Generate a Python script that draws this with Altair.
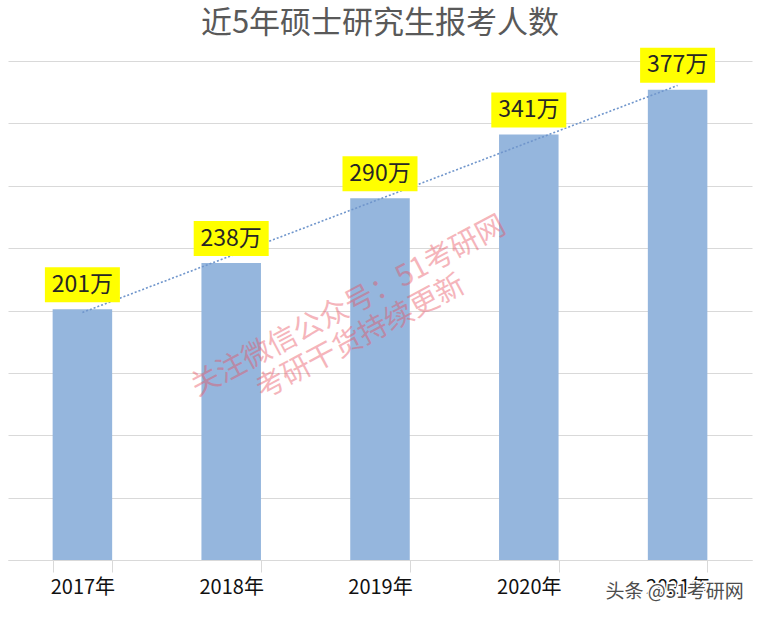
import altair as alt
import pandas as pd

# ---- data ----
years = [2017, 2018, 2019, 2020, 2021]
values = [201, 238, 290, 341, 377]
labels = [f"{v}万" for v in values]

wm_lines = ["关注微信公众号：51考研网", "考研干货持续更新"]
wm_year = [2019, 2019]
wm_value = [217, 187]

src_text = ["头条 @51考研网"]
src_year = [2021]
src_value = [-26]

df = pd.DataFrame({"year": years, "value": values, "label": labels})
wm1 = pd.DataFrame({"year": wm_year[:1], "value": wm_value[:1], "text": wm_lines[:1]})
wm2 = pd.DataFrame({"year": wm_year[1:], "value": wm_value[1:], "text": wm_lines[1:]})
src = pd.DataFrame({"year": src_year, "value": src_value, "text": src_text})

FONT = "Noto Sans CJK SC"

x = alt.X(
    "year:O",
    scale=alt.Scale(paddingInner=0.6, paddingOuter=0.3),
    axis=alt.Axis(
        title=None,
        labelAngle=0,
        labelExpr="isValid(datum.value) && datum.label != '' ? datum.label + '年' : ''",
        labelFontSize=20,
        labelFont=FONT,
        labelColor="#111111",
        labelPadding=5,
        domainColor="#d9d9d9",
        tickColor="#d9d9d9",
        tickSize=12,
        tickBand="extent",
        grid=False,
    ),
)
y = alt.Y(
    "value:Q",
    scale=alt.Scale(domain=[0, 400], nice=False),
    axis=alt.Axis(
        title=None,
        labels=False,
        ticks=False,
        domain=False,
        values=[0, 50, 100, 150, 200, 250, 300, 350, 400],
        gridColor="#d9d9d9",
        gridWidth=1,
    ),
)

base = alt.Chart(df)

bars = base.mark_bar(color="#95b6dd").encode(x=x, y=y)

trend = (
    base.transform_regression("year", "value", method="linear")
    .mark_line(color="#7096cc", strokeDash=[2, 2], strokeWidth=1.6)
    .encode(x="year:O", y="value:Q")
)

boxes = base.mark_point(
    shape="M-1,-0.467L1,-0.467L1,0.467L-1,0.467Z",
    filled=True,
    color="#ffff00",
    opacity=1,
    size=5625,
    yOffset=-24.5,
).encode(x="year:O", y="value:Q")

texts = base.mark_text(
    font=FONT, fontSize=23, color="#262626", dy=-24.5, baseline="middle"
).encode(x="year:O", y="value:Q", text="label:N")

wm_style = dict(font=FONT, fontSize=29, color="#e8505f", opacity=0.42, angle=332, baseline="middle")
watermark1 = alt.Chart(wm1).mark_text(dx=-36, **wm_style).encode(x="year:O", y="value:Q", text="text:N")
watermark2 = alt.Chart(wm2).mark_text(dx=-22, **wm_style).encode(x="year:O", y="value:Q", text="text:N")

src_halo = (
    alt.Chart(src)
    .mark_text(
        font=FONT, fontSize=19, color="#ffffff", stroke="#ffffff", strokeWidth=3, dx=-3, baseline="middle"
    )
    .encode(x="year:O", y="value:Q", text="text:N")
)
src_txt = (
    alt.Chart(src)
    .mark_text(font=FONT, fontSize=19, color="#3a3a3a", dx=-3, baseline="middle", opacity=0.9)
    .encode(x="year:O", y="value:Q", text="text:N")
)

chart = (
    alt.layer(bars, trend, boxes, texts, watermark1, watermark2, src_halo, src_txt)
    .properties(
        width=744,
        height=499,
        background="white",
        title=alt.Title(
            "近5年硕士研究生报考人数",
            font=FONT,
            fontSize=31,
            fontWeight="normal",
            color="#595959",
            anchor="middle",
            offset=8,
        ),
        padding={"left": 8, "top": 61, "right": 12, "bottom": 59},
        autosize=alt.AutoSizeParams(type="none"),
    )
    .configure_view(stroke=None)
)

chart.save("out.html", embed_options={"renderer": "svg", "actions": False})
